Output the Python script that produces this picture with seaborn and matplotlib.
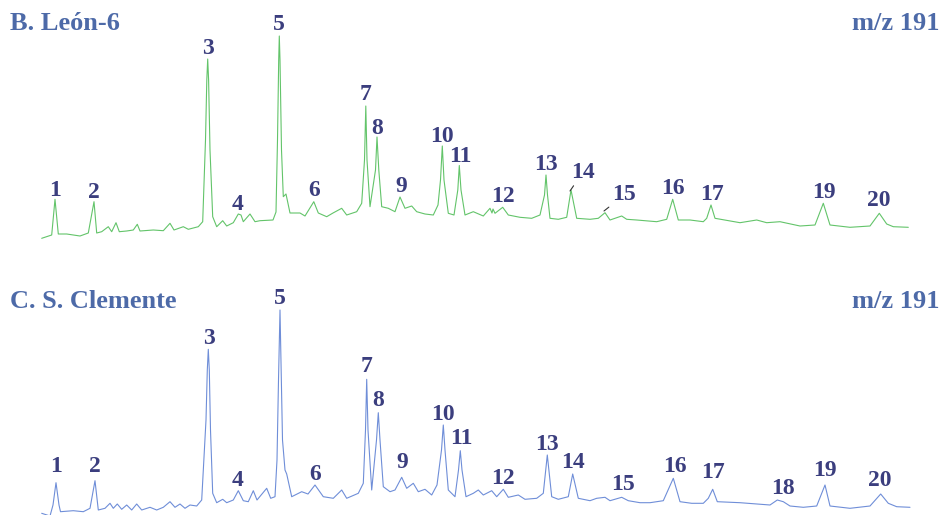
"""Two m/z 191 chromatograms (terpane fingerprint), León-6 vs S. Clemente."""

import matplotlib.pyplot as plt
import pandas as pd
import seaborn as sns

# ---- data (x = scan, y = relative abundance) ----
leon_scan = [
    41.7, 51.7, 55, 58.3, 66.7, 80, 88.3, 94, 96.7, 101.7, 108.3, 111.7, 116, 119.3,
    126.7, 133.3, 137.3, 140, 153.3, 163.3, 170, 174, 183.3, 188.3, 198.3, 202.7,
    205.5, 206.8, 207.7, 208.6, 210, 212.7, 216.7, 222.7, 226.7, 233.3, 238.3, 241,
    243.3, 250, 255, 260, 273, 276, 277.5, 278.7, 279.3, 280, 281.5, 283.3, 286, 290,
    300, 305, 313.8, 318.3, 326.7, 333, 341.7, 346.7, 356.7, 361.7, 364.5, 365.8, 367,
    370, 375.5, 377, 378.8, 381.7, 388.3, 395, 400, 405, 411.7, 416.7, 425, 433.3, 438,
    440.5, 442.3, 444, 448.3, 454, 457.8, 459.3, 461, 465, 473.3, 483.3, 490, 492, 493,
    495, 502.7, 508.3, 520, 531.7, 540, 544.5, 546, 547.5, 550, 558.3, 566.7, 571,
    576.7, 590, 598.3, 605, 610, 621.7, 626.7, 636.7, 656.7, 666.7, 672.7, 678.3, 690,
    703.3, 706.7, 711, 715, 740, 756.7, 766.7, 780, 800, 815, 823.3, 830, 850, 870,
    879.3, 886.7, 893.3, 908.3,
]
leon_abund = [
    6.7, 10, 45.7, 11, 11, 9, 12, 43.3, 12, 13.3, 18.3, 13.3, 22.3, 13.3,
    14, 15, 20.7, 14, 15, 14.3, 21.7, 15, 18.3, 15.7, 18.3, 23.3,
    105, 165, 186, 165, 95, 28.3, 18.3, 24.3, 19, 22.3, 31, 30,
    23.3, 31, 23.3, 24.3, 25, 33, 105, 185, 209, 185, 95, 48.3, 51, 32,
    32, 29, 43.3, 32, 28.3, 32, 36.7, 30, 33.3, 41.7, 85, 139, 85,
    38.3, 75, 108, 75, 38.3, 36.7, 33.3, 48, 36.7, 39, 33.3, 31, 30, 40,
    65, 99, 65, 31.7, 30, 55, 79.5, 55, 30, 33.3, 29, 36.7, 32, 36,
    31.7, 37.7, 30, 27.7, 26.7, 30, 50, 70, 50, 26.7, 25.7, 27.7, 55,
    26.7, 25.7, 26.7, 32.3, 25, 29, 25.7, 25, 23.3, 25.7, 45.7, 25, 25,
    23.3, 26.7, 40, 26.7, 22.3, 25, 22.3, 23.3, 19, 20, 41.7, 20, 17.7, 19,
    31.7, 21, 18.3, 17.7,
]

clemente_scan = [
    41.7, 50, 53, 56, 59, 60.5, 73.3, 83.3, 90, 95, 98.3, 105, 110, 113.3, 117.3,
    121.7, 126.7, 131.7, 136.7, 141.7, 150, 156.7, 163.3, 170, 175, 180, 185, 190,
    196.7, 201.7, 206, 207.3, 208.3, 209.3, 210.5, 212.7, 216.7, 222.7, 226.7, 233.3,
    238.3, 243.3, 248.3, 253.3, 257, 266.7, 270.7, 275, 277, 278.5, 280, 281.3, 282.5,
    285, 286.7, 291.7, 301.7, 308, 315, 323.3, 333.3, 341.7, 346.7, 358.3, 363.3,
    365.5, 366.7, 368, 371.7, 376.5, 378.3, 380, 383.3, 390, 395, 401.7, 406.7, 413.3,
    418.3, 425, 431.7, 437, 441.5, 443.3, 445, 448.3, 455, 458.5, 460.3, 462, 466,
    473.3, 478.3, 483.3, 491.7, 496.7, 503.3, 508.3, 518.3, 525, 536.7, 543.3, 547.3,
    551.7, 558.3, 568.3, 572.7, 578.3, 590, 596.7, 605, 610, 621.7, 628.3, 640, 650,
    663.3, 673.3, 680, 691.7, 703.3, 708.3, 712.7, 717.3, 740, 756.7, 770, 777.3,
    783.3, 790, 803.3, 816.7, 825, 830, 850, 870, 880.7, 888.3, 896.7, 910,
]
clemente_abund = [
    4.7, 2, 13, 35.3, 13, 6.3, 7.3, 6.3, 9.7, 37.3, 8, 9.7, 14.7, 9.7, 14,
    8.7, 13, 8, 14, 8, 10.7, 8, 10.7, 16.3, 10.7, 14, 9.7, 13,
    12, 18, 98, 148, 168.7, 148, 88, 24.7, 15.3, 18.7, 15.3, 18,
    27.3, 17.3, 16.3, 27.3, 18, 29.7, 19.7, 21.3, 58, 138, 208, 138, 78,
    48, 44, 21.3, 26.3, 24, 33, 21.3, 19.7, 28, 19.7, 24.7, 34.7,
    88, 138.7, 88, 28, 78, 105.3, 78, 31.3, 26.3, 28, 40.7, 29.7, 34.7,
    26.3, 28.7, 23, 33, 68, 93, 68, 28, 21.3, 48, 67.3, 48, 21.3,
    24.7, 28, 23, 27.3, 21.3, 28.7, 20.7, 23, 18.7, 19.7, 24.7, 63,
    21.3, 18.7, 21.3, 44, 19.7, 17.3, 19.7, 20.7, 17.3, 20.7, 17.3, 15.3, 15.3,
    17.3, 39.7, 16.3, 14.7, 14.7, 19.7, 28.7, 16.3, 15.3, 14, 13, 18,
    16.3, 12, 10.7, 12, 33, 12, 9.7, 12, 24, 14.7, 11.3, 10.7,
]

# peak numbers and where their labels sit
leon_peaks = ["1", "2", "3", "4", "5", "6", "7", "8", "9", "10",
              "11", "12", "13", "14", "15", "16", "17", "19", "20"]
leon_label_x = [55, 94, 208, 238, 279, 314, 366, 377, 401, 442,
                460, 503, 546, 583, 624, 673, 712, 824, 879]
leon_label_y = [54, 52, 197, 40, 221, 55, 150, 117, 59, 109,
                89, 49, 81, 73, 50, 56, 51, 53, 44]

clemente_peaks = ["1", "2", "3", "4", "5", "6", "7", "8", "9", "10",
                  "11", "12", "13", "14", "15", "16", "17", "18", "19", "20"]
clemente_label_x = [56, 95, 209, 238, 280, 315, 367, 378, 402, 443,
                    461, 503, 547, 573, 623, 675, 713, 783, 825, 880]
clemente_label_y = [51, 51, 180, 38, 219, 44, 151, 117, 55, 104,
                    79, 40, 74, 55, 33, 51, 46, 30, 48, 37]

# labels joined to their peak by a short leader line (León-6 only)
leon_leaders = {"14": (570, 54), "15": (604, 34)}

TITLE_COLOR = "#4d6aa8"
LABEL_COLOR = "#3b3e7e"
SERIF = ["Liberation Serif", "DejaVu Serif"]

sns.set_theme(style="white")
plt.rcParams["font.family"] = SERIF


def draw_trace(ax, scan, abund, color, name, peaks, lab_x, lab_y, base_y,
               leaders=None):
    """Draw one chromatogram trace with its numbered peaks."""
    df = pd.DataFrame({"scan": scan, "abundance": abund})
    sns.lineplot(data=df, x="scan", y="abundance", ax=ax, color=color,
                 linewidth=0.8, estimator=None, legend=False)
    for line in ax.lines:
        line.set_clip_on(False)

    leaders = leaders or {}
    for lab, x, y in zip(peaks, lab_x, lab_y):
        if lab in leaders:
            ax.annotate(lab, xy=leaders[lab], xytext=(x, y), ha="center",
                        va="center", fontsize=17, fontweight="bold",
                        color=LABEL_COLOR,
                        arrowprops=dict(arrowstyle="-", color="#333333",
                                        lw=0.8, shrinkA=0, shrinkB=0))
        else:
            ax.text(x, y, lab, ha="center", va="center", fontsize=17,
                    fontweight="bold", color=LABEL_COLOR)

    ax.text(10, base_y, name, ha="left", va="center", fontsize=19,
            fontweight="bold", color=TITLE_COLOR)
    ax.text(940, base_y, "m/z 191", ha="right", va="center", fontsize=19,
            fontweight="bold", color=TITLE_COLOR)

    ax.set_xlim(0, 943)
    ax.axis("off")


fig = plt.figure(figsize=(9.43, 5.15), dpi=100)
ax_top = fig.add_axes([0, 0.5, 1, 0.5])
ax_bot = fig.add_axes([0, 0, 1, 0.5])

draw_trace(ax_top, leon_scan, leon_abund, "#63c46a", "B. León-6",
           leon_peaks, leon_label_x, leon_label_y, 221.5, leon_leaders)
ax_top.set_ylim(-12.5, 245)

draw_trace(ax_bot, clemente_scan, clemente_abund, "#6f8ed8", "C. S. Clemente",
           clemente_peaks, clemente_label_x, clemente_label_y, 217)
ax_bot.set_ylim(3, 260.5)

fig.savefig("out.png", dpi=100, facecolor="white")
